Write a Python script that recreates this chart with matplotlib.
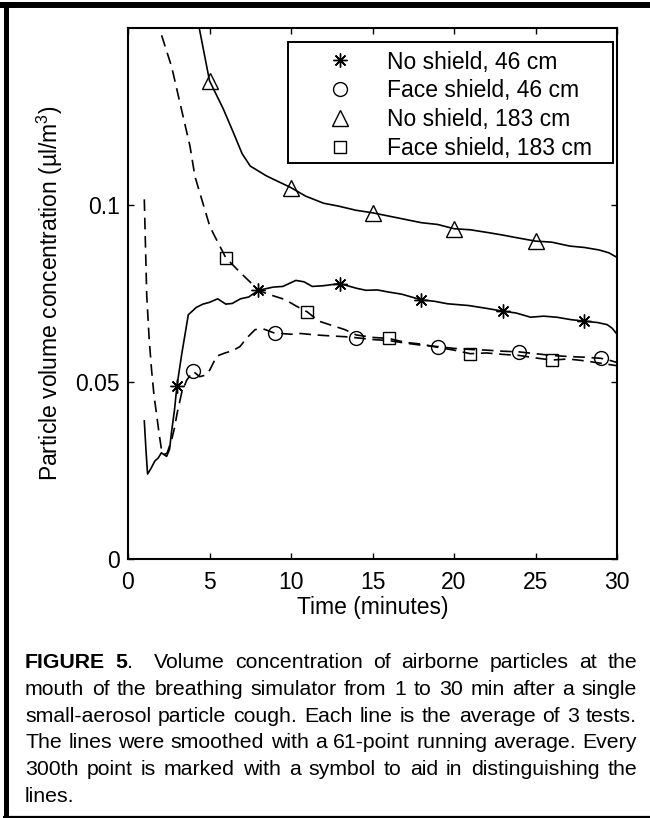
import matplotlib
matplotlib.use('Agg')
import matplotlib.pyplot as plt
from matplotlib.lines import Line2D
from matplotlib.patches import Rectangle

plt.rcParams['font.family'] = ['Liberation Sans', 'DejaVu Sans']
plt.rcParams['mathtext.fontset'] = 'custom'
plt.rcParams['mathtext.rm'] = 'Liberation Sans'
plt.rcParams['mathtext.it'] = 'Liberation Sans:italic'
plt.rcParams['mathtext.bf'] = 'Liberation Sans:bold'

# ---------------- data ----------------
# No shield, 46 cm
A_t = [1.0, 1.1, 1.2, 1.4, 1.65, 1.85, 2.05, 2.2, 2.37, 2.55, 2.68, 2.85, 3.0, 3.3, 3.7, 4.2, 4.6, 5.0, 5.5, 6.0,
       6.4, 6.9, 7.4, 8.0, 8.9, 9.5, 10.3, 10.8, 11.3, 12.0, 13.0, 14.0, 14.6, 15.3, 16.0, 16.8, 18.0, 18.8, 19.6, 20.9,
       22.0, 23.0, 23.8, 24.7, 25.5, 26.3, 27.2, 28.0, 28.8, 29.4, 29.7, 30.0]
A_v = [0.039, 0.031, 0.024, 0.0255, 0.0277, 0.0285, 0.0300, 0.0295, 0.0290, 0.0310, 0.0362, 0.0420, 0.0488, 0.0580,
       0.0690, 0.0711, 0.0720, 0.0725, 0.0735, 0.0720, 0.0722, 0.0735, 0.0740, 0.0759, 0.0768, 0.0770, 0.0787, 0.0783,
       0.0770, 0.0772, 0.0778, 0.0765, 0.0759, 0.0760, 0.0754, 0.0748, 0.0732, 0.0728, 0.0721, 0.0716, 0.0708, 0.0700,
       0.0695, 0.0683, 0.0686, 0.0683, 0.0676, 0.0672, 0.0668, 0.0662, 0.0652, 0.0635]
A_marks = [3.0, 8.0, 13.0, 18.0, 23.0, 28.0]

# Face shield, 46 cm
B_t = [1.0, 1.15, 1.3, 1.45, 1.6, 1.75, 1.9, 2.05, 2.2, 2.4, 2.68, 2.85, 3.02, 3.29, 3.6, 4.0, 4.4, 4.8, 5.03, 5.44,
       5.95, 6.4, 6.87, 7.3, 7.8, 8.3, 9.0, 10.0, 10.6, 11.5, 12.5, 13.3, 14.0, 15.0, 16.0, 17.0, 18.0, 19.0, 20.0, 21.0,
       22.0, 23.0, 24.0, 25.0, 26.0, 27.0, 28.0, 29.0, 29.5, 30.0]
B_v = [0.1016, 0.0744, 0.0620, 0.0532, 0.0460, 0.0410, 0.0357, 0.0310, 0.0295, 0.0299, 0.0337, 0.0370, 0.0413, 0.0469,
       0.0505, 0.0530, 0.0515, 0.0520, 0.0535, 0.0573, 0.0582, 0.0588, 0.0600, 0.0625, 0.0648, 0.0650, 0.0638, 0.0635,
       0.0637, 0.0633, 0.0630, 0.0628, 0.0625, 0.0620, 0.0617, 0.0610, 0.0604, 0.0600, 0.0595, 0.0592, 0.0590, 0.0587,
       0.0585, 0.0580, 0.0575, 0.0572, 0.0570, 0.0567, 0.0562, 0.0555]
B_marks = [4.0, 9.0, 14.0, 19.0, 24.0, 29.0]

# No shield, 183 cm
C_t = [3.9, 4.37, 5.0, 5.85, 6.46, 7.0, 7.5, 8.5, 10.0, 10.9, 12.0, 12.9, 14.0, 15.0, 16.5, 18.0, 19.0, 20.0, 21.0,
       22.1, 23.0, 23.8, 25.0, 26.0, 27.1, 28.0, 28.9, 29.5, 30.0]
C_v = [0.168, 0.150, 0.1351, 0.1271, 0.1205, 0.1145, 0.1110, 0.1082, 0.1049, 0.1025, 0.1005, 0.0997, 0.0985, 0.0978,
       0.0964, 0.0950, 0.0945, 0.0933, 0.0930, 0.0922, 0.0915, 0.0908, 0.0898, 0.0895, 0.0884, 0.0880, 0.0873, 0.0865,
       0.0852]
C_marks = [5.0, 10.0, 15.0, 20.0, 25.0]

# Face shield, 183 cm
D_t = [1.7, 1.96, 2.68, 3.29, 3.8, 4.11, 5.03, 6.0, 6.87, 7.5, 8.0, 8.6, 9.63, 10.3, 11.0, 11.7, 12.5, 13.3, 14.0,
       15.0, 16.0, 17.0, 18.0, 19.0, 20.0, 21.0, 22.0, 23.0, 24.0, 25.0, 26.0, 27.0, 28.0, 29.0, 30.0]
D_v = [0.165, 0.1494, 0.1390, 0.1268, 0.1167, 0.1080, 0.0938, 0.0851, 0.0810, 0.0782, 0.0759, 0.0748, 0.0733, 0.0715,
       0.0698, 0.0672, 0.0660, 0.0648, 0.0633, 0.0626, 0.0623, 0.0612, 0.0607, 0.0598, 0.0590, 0.0580, 0.0582, 0.0578,
       0.0575, 0.0568, 0.0562, 0.0565, 0.0560, 0.0553, 0.0546]
D_marks = [6.0, 11.0, 16.0, 21.0, 26.0]

labels = ['No shield, 46 cm', 'Face shield, 46 cm', 'No shield, 183 cm', 'Face shield, 183 cm']
x_ticks = [0, 5, 10, 15, 20, 25, 30]
y_ticks = [0, 0.05, 0.1]
y_tick_labels = ['0', '0.05', '0.1']
x_label = 'Time (minutes)'
y_label = 'Particle volume concentration (\u00b5l/m$^3$)'

CAPTION_LINES = [
    "FIGURE 5.  Volume concentration of airborne particles at the",
    "mouth of the breathing simulator from 1 to 30 min after a single",
    "small-aerosol particle cough. Each line is the average of 3 tests.",
    "The lines were smoothed with a 61-point running average. Every",
    "300th point is marked with a symbol to aid in distinguishing the",
    "lines.",
]
CAPTION_BOLD = "FIGURE 5"

# ---------------- figure ----------------
W, H = 650, 818
fig = plt.figure(figsize=(W / 100, H / 100), dpi=100)


def fx(px):
    return px / W


def fy(py):
    return 1 - py / H


ax = fig.add_axes([fx(128), fy(559), 489 / W, 531 / H])
FS = 16.5

styles = [
    (A_t, A_v, A_marks, '-', (8, 2, 0), 10),
    (B_t, B_v, B_marks, '--', 'o', 10),
    (C_t, C_v, C_marks, '-', '^', 12),
    (D_t, D_v, D_marks, '--', 's', 8),
]
handles = []
for (t, v, marks, ls, mk, ms), lab in zip(styles, labels):
    idx = [t.index(m) for m in marks]
    line, = ax.plot(t, v, color='k', lw=1.2, ls=ls, marker=mk, ms=ms, markevery=idx,
                    mfc='none', mec='k', mew=1.0)
    if ls == '--':
        line.set_dashes([7, 4])
    handles.append(Line2D([], [], ls='none', marker=mk, ms=ms, mfc='none', mec='k', mew=1.0, color='k'))

ax.set_xlim(0, 30)
ax.set_ylim(0, 0.15)
ax.set_xticks(x_ticks)
ax.set_xticklabels([str(x) for x in x_ticks])
ax.set_yticks(y_ticks)
ax.set_yticklabels(y_tick_labels)
ax.tick_params(axis='both', direction='in', length=4.3, width=1.0, top=True, right=True,
               labelsize=FS, colors='k')
ax.tick_params(axis='x', pad=8.5)
ax.tick_params(axis='y', pad=5.8)
for s in ax.spines.values():
    s.set_linewidth(1.5)
    s.set_color('k')

# legend box drawn at its place, entries placed inside it
box = Rectangle((fx(288), fy(163)), fx(613) - fx(288), fy(42) - fy(163), transform=fig.transFigure,
                facecolor='white', edgecolor='k', lw=1.4, zorder=4)
ax.add_artist(box)
leg = ax.legend(handles, labels, loc='upper left', bbox_to_anchor=(fx(317), fy(50.5)),
                bbox_transform=fig.transFigure, borderaxespad=0, borderpad=0,
                fontsize=FS, frameon=False, handlelength=2.0, handletextpad=1.04,
                labelspacing=0.25, numpoints=1)
leg.set_zorder(5)

fig.text(fx(49.5), fy(293.5), y_label, rotation=90, ha='center', va='center', fontsize=FS)
fig.text(fx(372.5), fy(614), x_label, ha='center', va='baseline', fontsize=FS)

# ---------------- caption (justified) ----------------
cap_fs = 15.3
cap_left, cap_right = 25, 637
cap_base0, cap_step = 668.3, 26.7
r = fig.canvas.get_renderer()


def seg_width(s, bold):
    if not s:
        return 0.0
    t = fig.text(0, 0, s, fontsize=cap_fs, fontweight='bold' if bold else 'normal')
    w = t.get_window_extent(renderer=r).width
    t.remove()
    return w


space_w = seg_width('a a', False) - seg_width('aa', False)
for i, line in enumerate(CAPTION_LINES):
    words = line.split(' ')
    nbold = len(CAPTION_BOLD) if (i == 0 and line.startswith(CAPTION_BOLD)) else 0
    pos = 0
    wsegs = []
    for w in words:
        segs = []
        if pos < nbold:
            k = min(len(w), nbold - pos)
            segs.append((w[:k], True))
            if w[k:]:
                segs.append((w[k:], False))
        else:
            segs.append((w, False))
        pos += len(w) + 1
        wsegs.append([(s, b, seg_width(s, b)) for s, b in segs])
    total = sum(sw for ws in wsegs for _, _, sw in ws)
    ngaps = len(words) - 1
    last = (i == len(CAPTION_LINES) - 1)
    gap = space_w if (last or ngaps == 0) else ((cap_right - cap_left) - total) / ngaps
    x = cap_left
    yb = cap_base0 + i * cap_step
    for ws in wsegs:
        for s, b, sw in ws:
            if s:
                fig.text(fx(x), fy(yb), s, fontsize=cap_fs, fontweight='bold' if b else 'normal',
                         ha='left', va='baseline')
            x += sw
        x += gap

# ---------------- outer frame ----------------
fig.add_artist(Line2D([fx(0), fx(650)], [fy(5), fy(5)], transform=fig.transFigure, color='k', lw=4.3,
                      solid_capstyle='butt'))
fig.add_artist(Line2D([fx(5.5), fx(5.5)], [fy(2), fy(818)], transform=fig.transFigure, color='k', lw=3.6,
                      solid_capstyle='butt'))
fig.add_artist(Line2D([fx(3), fx(650)], [fy(816.7), fy(816.7)], transform=fig.transFigure, color='k', lw=1.6,
                      solid_capstyle='butt'))

fig.savefig('out.png', dpi=100)
